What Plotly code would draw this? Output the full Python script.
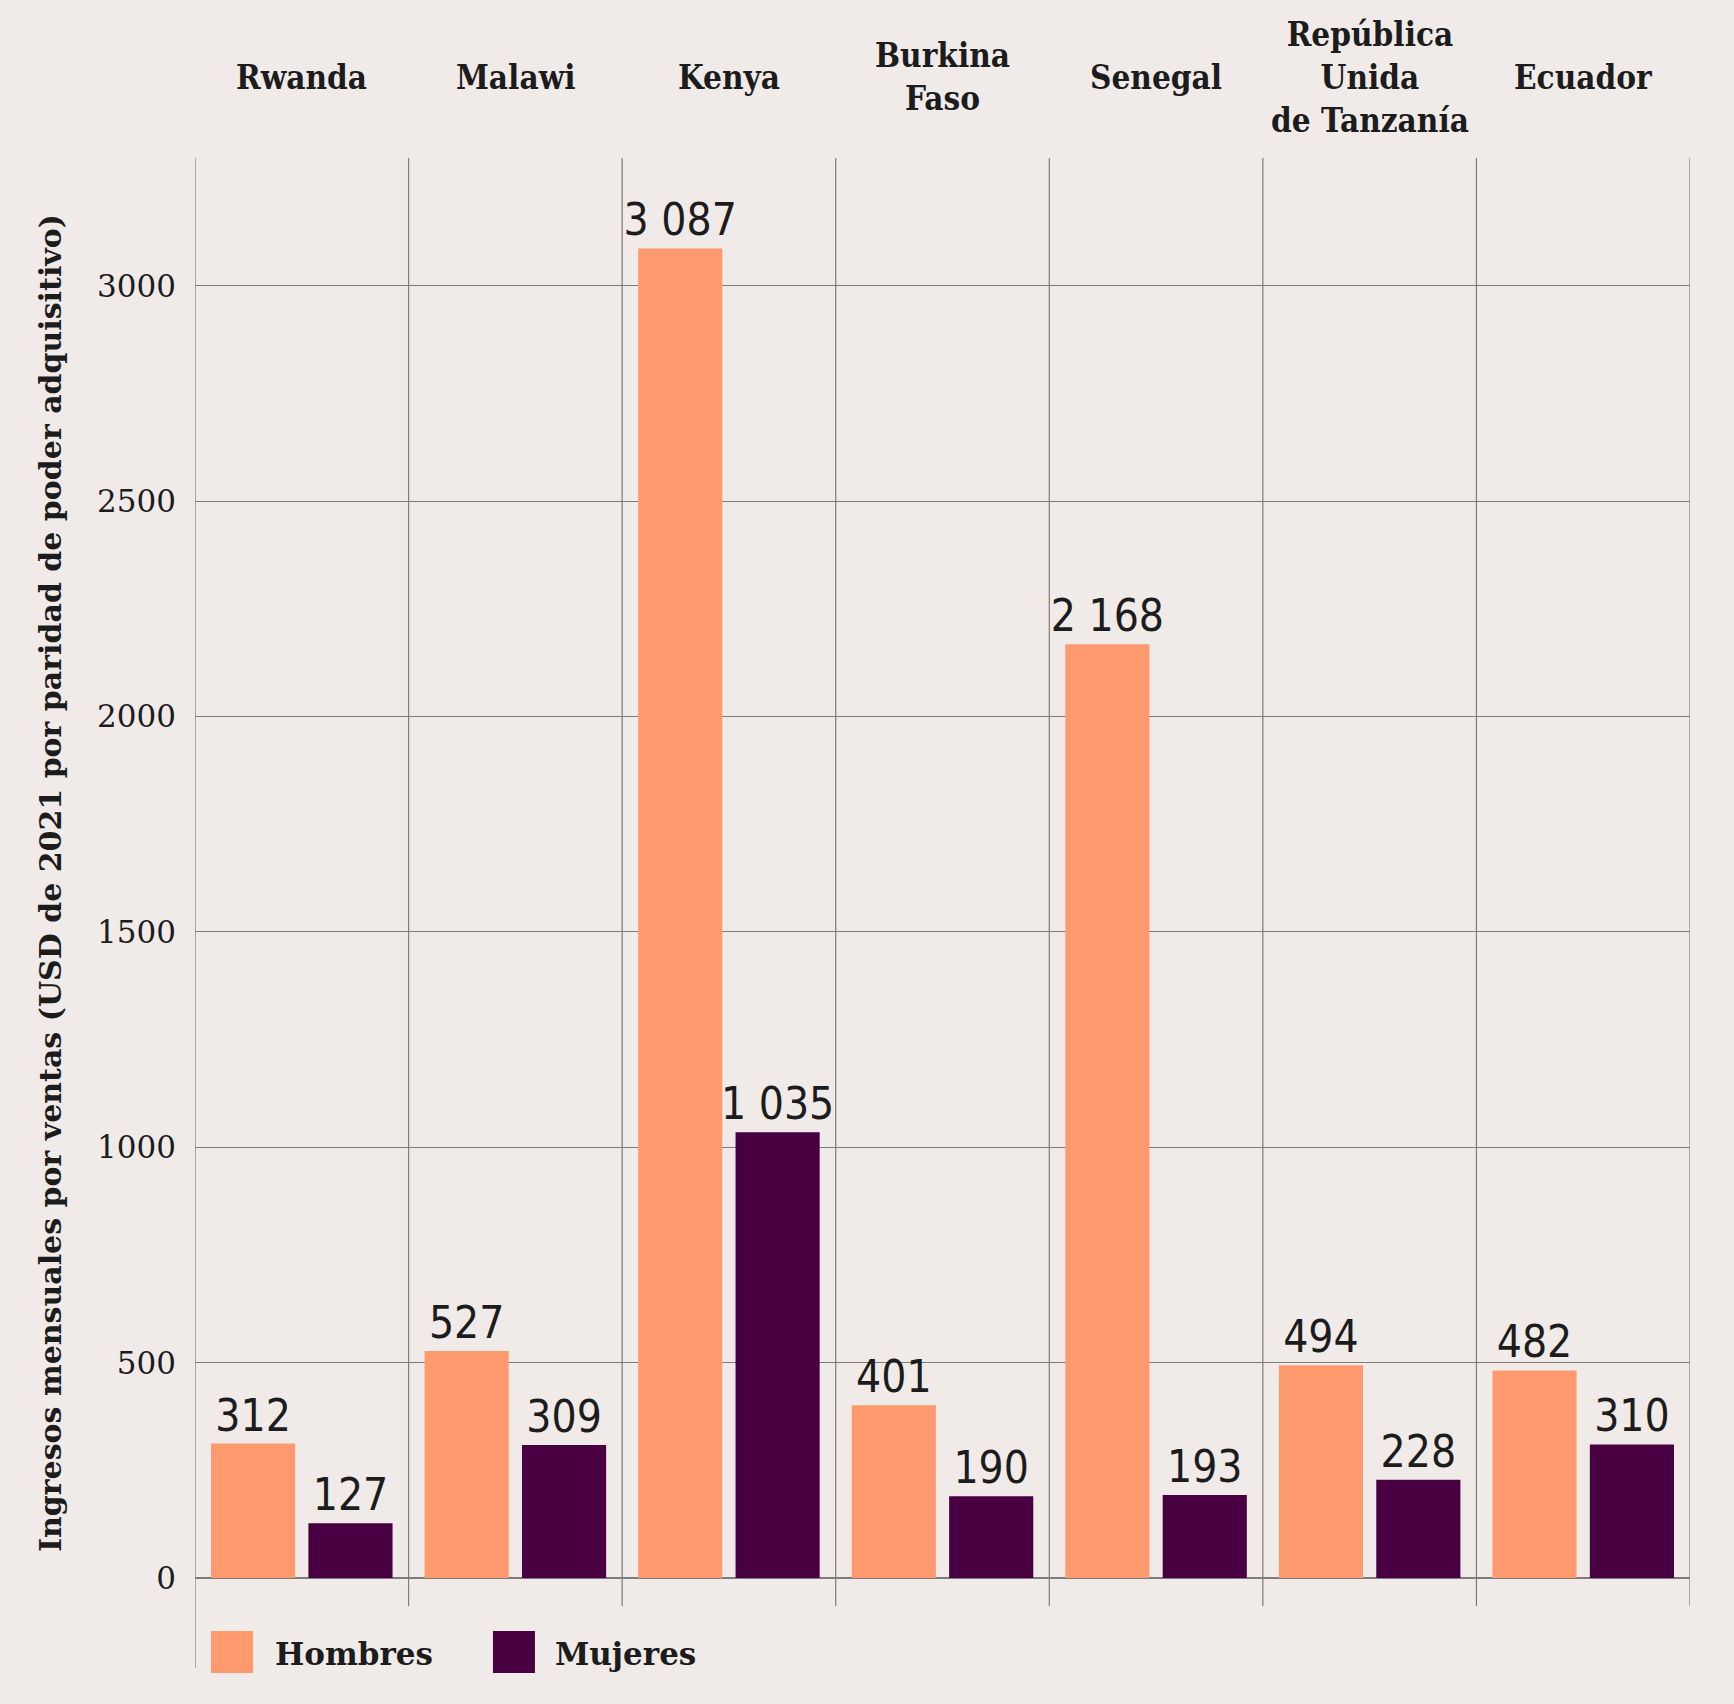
import plotly.graph_objects as go

paises = ["Rwanda", "Malawi", "Kenya", "Burkina<br>Faso", "Senegal",
          "República<br>Unida<br>de Tanzanía", "Ecuador"]
hombres = [312, 527, 3087, 401, 2168, 494, 482]
mujeres = [127, 309, 1035, 190, 193, 228, 310]
y_ticks = [0, 500, 1000, 1500, 2000, 2500, 3000]
series = ["Hombres", "Mujeres"]

C_H = "#FF9A6E"
C_M = "#480042"
BG = "#F0EBE9"
GRID = "#7c7c7c"
TXT = "#1c1c1c"

SERIF_C = "DejaVu Serif Condensed, DejaVu Serif, Liberation Serif, serif"
SERIF = "DejaVu Serif, Liberation Serif, serif"
NARROW = "Liberation Sans Narrow, DejaVu Sans Condensed, Roboto, sans-serif"


def fmt(v):
    return f"{v:,}".replace(",", " ")


cats = list(range(len(paises)))

fig = go.Figure()
for name, vals, col in [(series[0], hombres, C_H), (series[1], mujeres, C_M)]:
    fig.add_trace(go.Bar(
        x=cats, y=vals, name=name, marker=dict(color=col, line=dict(width=0)),
        text=[fmt(v) for v in vals], textposition="outside",
        constraintext="none", cliponaxis=False,
        outsidetextfont=dict(family=NARROW, size=44, color=TXT),
        showlegend=False, hoverinfo="skip",
    ))

shapes = []
for i in range(len(paises) + 1):
    shapes.append(dict(type="line", xref="x", yref="paper",
                       x0=i - 0.5, x1=i - 0.5,
                       y0=(-0.0634 if i == 0 else -0.0197), y1=1.0,
                       line=dict(color=GRID, width=1.2), layer="below"))

annotations = []
for i, p in enumerate(paises):
    annotations.append(dict(x=i, xref="x", y=1.057, yref="paper", text=p,
                            showarrow=False, xanchor="center", yanchor="middle",
                            font=dict(family=SERIF_C, size=33, color=TXT, weight="bold"),
                            align="center"))

annotations.append(dict(
    x=-0.097, xref="paper", y=0.4894, yref="paper", textangle=-90,
    text="Ingresos mensuales por ventas (USD de 2021 por paridad de poder adquisitivo)",
    showarrow=False, xanchor="center", yanchor="middle",
    font=dict(family=SERIF, size=30, color=TXT, weight="bold")))

# manual legend
leg = [(series[0], C_H, 0.0107, 0.0388, 0.0522),
       (series[1], C_M, 0.1993, 0.2274, 0.2395)]
for name, col, sx0, sx1, tx in leg:
    shapes.append(dict(type="rect", xref="paper", yref="paper",
                       x0=sx0, x1=sx1, y0=-0.0669, y1=-0.0373,
                       fillcolor=col, line=dict(width=0)))
    annotations.append(dict(x=tx, xref="paper", y=-0.0535, yref="paper", text=name,
                            showarrow=False, xanchor="left", yanchor="middle",
                            font=dict(family=SERIF, size=31, color=TXT, weight="bold")))

fig.update_layout(
    width=1734, height=1704,
    margin=dict(l=195, r=44, t=158, b=126),
    paper_bgcolor=BG, plot_bgcolor=BG,
    barmode="group", bargap=0.088, bargroupgap=0.136,
    shapes=shapes, annotations=annotations,
    xaxis=dict(range=[-0.5, len(paises) - 0.5], showticklabels=False,
               showgrid=False, zeroline=False, showline=False, fixedrange=True),
    yaxis=dict(range=[0, 3297], tickvals=y_ticks, ticktext=[str(t) for t in y_ticks],
               showgrid=True, gridcolor=GRID, gridwidth=1.2,
               zeroline=True, zerolinecolor=GRID, zerolinewidth=1.6,
               showline=False, ticks="", ticklabelstandoff=18,
               tickfont=dict(family=SERIF, size=31, color=TXT)),
)

fig.write_html(
    "out.html",
    config={"displayModeBar": False},
    post_script="document.body.style.margin='0';document.body.style.background='" + BG + "';",
)
